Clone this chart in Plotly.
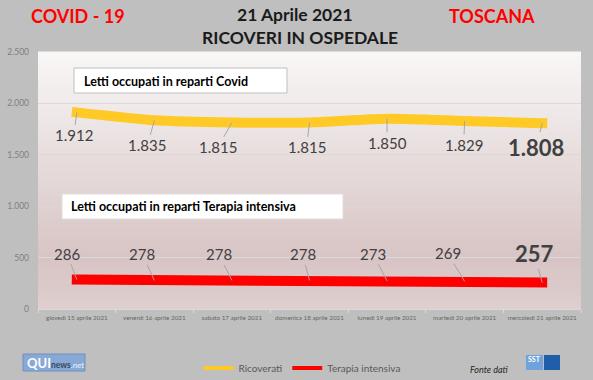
import plotly.graph_objects as go

# ---------------- data ----------------
dates = ["giovedì 15 aprile 2021", "venerdì 16 aprile 2021", "sabato 17 aprile 2021",
         "domenica 18 aprile 2021", "lunedì 19 aprile 2021", "martedì 20 aprile 2021",
         "mercoledì 21 aprile 2021"]
ricoverati = [1912, 1835, 1815, 1815, 1850, 1829, 1808]
terapia = [286, 278, 278, 278, 273, 269, 257]
y_ticks = [0, 500, 1000, 1500, 2000, 2500]

# label offsets (pixels) for the data labels
ric_off = [(-3, 23), (-7, 25), (-14, 25), (-3, 25), (0, 24), (-1, 24), (-6, 24)]
ter_off = [(-10, -26), (-12, -26), (-13, -26), (-7, -26), (-14, -27), (-17, -28), (-8, -29)]

# ---------------- geometry helpers ----------------
W, H = 593, 380
L, R, T, B = 38, 12, 52, 71
PW, PH = W - L - R, H - T - B
FONT = "Lato"


def px(x):
    return (x - L) / PW


def py(y):
    return (H - B - y) / PH


def fmt(v):
    return f"{v:,}".replace(",", ".")


fig = go.Figure()

fig.add_trace(go.Scatter(x=dates, y=ricoverati, mode="lines", name="Ricoverati",
                         line=dict(color="#ffc926", width=10, shape="spline", smoothing=0.6),
                         showlegend=False, hoverinfo="skip"))
fig.add_trace(go.Scatter(x=dates, y=terapia, mode="lines", name="Terapia intensiva",
                         line=dict(color="#ff0000", width=10),
                         showlegend=False, hoverinfo="skip"))
# legend entries
fig.add_trace(go.Scatter(x=[None], y=[None], mode="lines", name="Ricoverati",
                         line=dict(color="#ffc926", width=4)))
fig.add_trace(go.Scatter(x=[None], y=[None], mode="lines", name="Terapia intensiva",
                         line=dict(color="#ff0000", width=4)))

annotations = []
last = len(dates) - 1
for i, (d, v) in enumerate(zip(dates, ricoverati)):
    big = i == last
    annotations.append(dict(
        x=d, y=v, xref="x", yref="y", text=f"<b>{fmt(v)}</b>" if big else fmt(v),
        showarrow=True, arrowhead=0, arrowwidth=1, arrowcolor="#a6a6a6", standoff=0,
        ax=ric_off[i][0], ay=ric_off[i][1],
        font=dict(family=FONT, size=22 if big else 15, color="#404040")))
for i, (d, v) in enumerate(zip(dates, terapia)):
    big = i == last
    annotations.append(dict(
        x=d, y=v, xref="x", yref="y", text=f"<b>{fmt(v)}</b>" if big else fmt(v),
        showarrow=True, arrowhead=0, arrowwidth=1, arrowcolor="#a6a6a6", standoff=0,
        ax=ter_off[i][0], ay=ter_off[i][1],
        font=dict(family=FONT, size=22 if big else 15, color="#404040")))


def paper_text(x, y, text, size, color, bold=True, italic=False, xanchor="center"):
    t = text
    if bold:
        t = f"<b>{t}</b>"
    if italic:
        t = f"<i>{t}</i>"
    annotations.append(dict(x=px(x), y=py(y), xref="paper", yref="paper", text=t,
                            showarrow=False, xanchor=xanchor, yanchor="middle",
                            font=dict(family=FONT, size=size, color=color)))


# titles
paper_text(78, 16, "COVID - 19", 18, "#ff0000")
paper_text(295, 14, "21 Aprile 2021", 17.5, "#1a1a1a")
paper_text(300, 37, "RICOVERI IN OSPEDALE", 17.5, "#1a1a1a")
paper_text(492, 16, "TOSCANA", 18, "#ff0000")

# boxes' texts
paper_text(82, 81, "Letti occupati in reparti Covid", 12.5, "#000000", xanchor="left")
paper_text(69, 206.5, "Letti occupati in reparti Terapia intensiva", 12.5, "#000000", xanchor="left")

# footer
paper_text(489, 369, "Fonte dati", 9, "#262626", bold=False, italic=True)
annotations.append(dict(x=px(25), y=py(363), xref="paper", yref="paper",
                        text="<b><span style='font-size:13px;color:#ffffff'>QUI</span></b>"
                             "<b><span style='color:#34475e'>news</span></b>"
                             "<i><span style='color:#e8f0fa'>.net</span></i>",
                        showarrow=False, xanchor="left", yanchor="middle",
                        font=dict(family=FONT, size=8.5, color="#ffffff")))
annotations.append(dict(x=px(534.5), y=py(359), xref="paper", yref="paper",
                        text="<b>SST</b>", showarrow=False, xanchor="center", yanchor="middle",
                        font=dict(family=FONT, size=7, color="#ffffff")))

shapes = []
# gradient background of plot area
stops = [(0.0, (249, 247, 247)), (0.35, (234, 225, 225)), (0.8, (216, 196, 196)), (1.0, (222, 206, 206))]


def col(t):
    for (t0, c0), (t1, c1) in zip(stops[:-1], stops[1:]):
        if t0 <= t <= t1:
            f = (t - t0) / (t1 - t0)
            return "rgb(%d,%d,%d)" % tuple(round(a + (b - a) * f) for a, b in zip(c0, c1))
    return "rgb(%d,%d,%d)" % stops[-1][1]


N = 60
for k in range(N):
    t = (k + 0.5) / N
    shapes.append(dict(type="rect", xref="paper", yref="paper", x0=0, x1=1,
                       y0=1 - (k + 1) / N - 0.002, y1=1 - k / N + 0.002,
                       fillcolor=col(t), line=dict(width=0), layer="below"))

# label boxes
shapes.append(dict(type="rect", xref="paper", yref="paper", x0=px(74), x1=px(287),
                   y0=py(93), y1=py(68), fillcolor="#ffffff",
                   line=dict(color="#bfbfbf", width=1)))
shapes.append(dict(type="rect", xref="paper", yref="paper", x0=px(62), x1=px(343),
                   y0=py(219), y1=py(194), fillcolor="#ffffff",
                   line=dict(color="#e0dcdc", width=1)))
# QUInews logo
shapes.append(dict(type="rect", xref="paper", yref="paper", x0=px(23), x1=px(85),
                   y0=py(371), y1=py(354), fillcolor="#88a9d6",
                   line=dict(color="#6f90c0", width=1)))
# SST logo
shapes.append(dict(type="rect", xref="paper", yref="paper", x0=px(526), x1=px(543),
                   y0=py(370), y1=py(355), fillcolor="#6fa3dc",
                   line=dict(width=0)))
shapes.append(dict(type="rect", xref="paper", yref="paper", x0=px(544), x1=px(560),
                   y0=py(370), y1=py(355), fillcolor="#1f5ea8",
                   line=dict(width=0)))

fig.update_layout(
    width=W, height=H,
    margin=dict(l=L, r=R, t=T, b=B, pad=0, autoexpand=False),
    paper_bgcolor="#bfbfbf",
    plot_bgcolor="#f3efef",
    separators=",.",
    font=dict(family=FONT, color="#595959"),
    showlegend=True,
    legend=dict(orientation="h", x=px(302), xanchor="center", y=py(368), yanchor="middle",
                bgcolor="rgba(0,0,0,0)", font=dict(family=FONT, size=10, color="#595959"),
                itemwidth=30, tracegroupgap=0),
    annotations=annotations,
    shapes=shapes,
    xaxis=dict(type="category", categoryorder="array", categoryarray=dates,
               range=[-0.5, len(dates) - 0.5], autorange=False,
               tickson="boundaries", ticks="outside", ticklen=3, tickcolor="#d9d9d9",
               showline=True, linecolor="#d9d9d9", linewidth=1, showgrid=False,
               tickfont=dict(family=FONT, size=6.3, color="#666666"), tickangle=0,
               ticklabelstandoff=2),
    yaxis=dict(range=[0, 2500], tickvals=y_ticks, tickformat=",d", showgrid=True,
               gridcolor="#d9d9d9", gridwidth=1, zeroline=False, showline=False,
               tickfont=dict(family=FONT, size=8.5, color="#808080"),
               ticks="", ticklabelstandoff=8),
)

fig.write_html("out.html", post_script=(
    "document.querySelectorAll('.scatterlayer .js-line').forEach(function(p){"
    "p.style.strokeLinecap='square';});"))
